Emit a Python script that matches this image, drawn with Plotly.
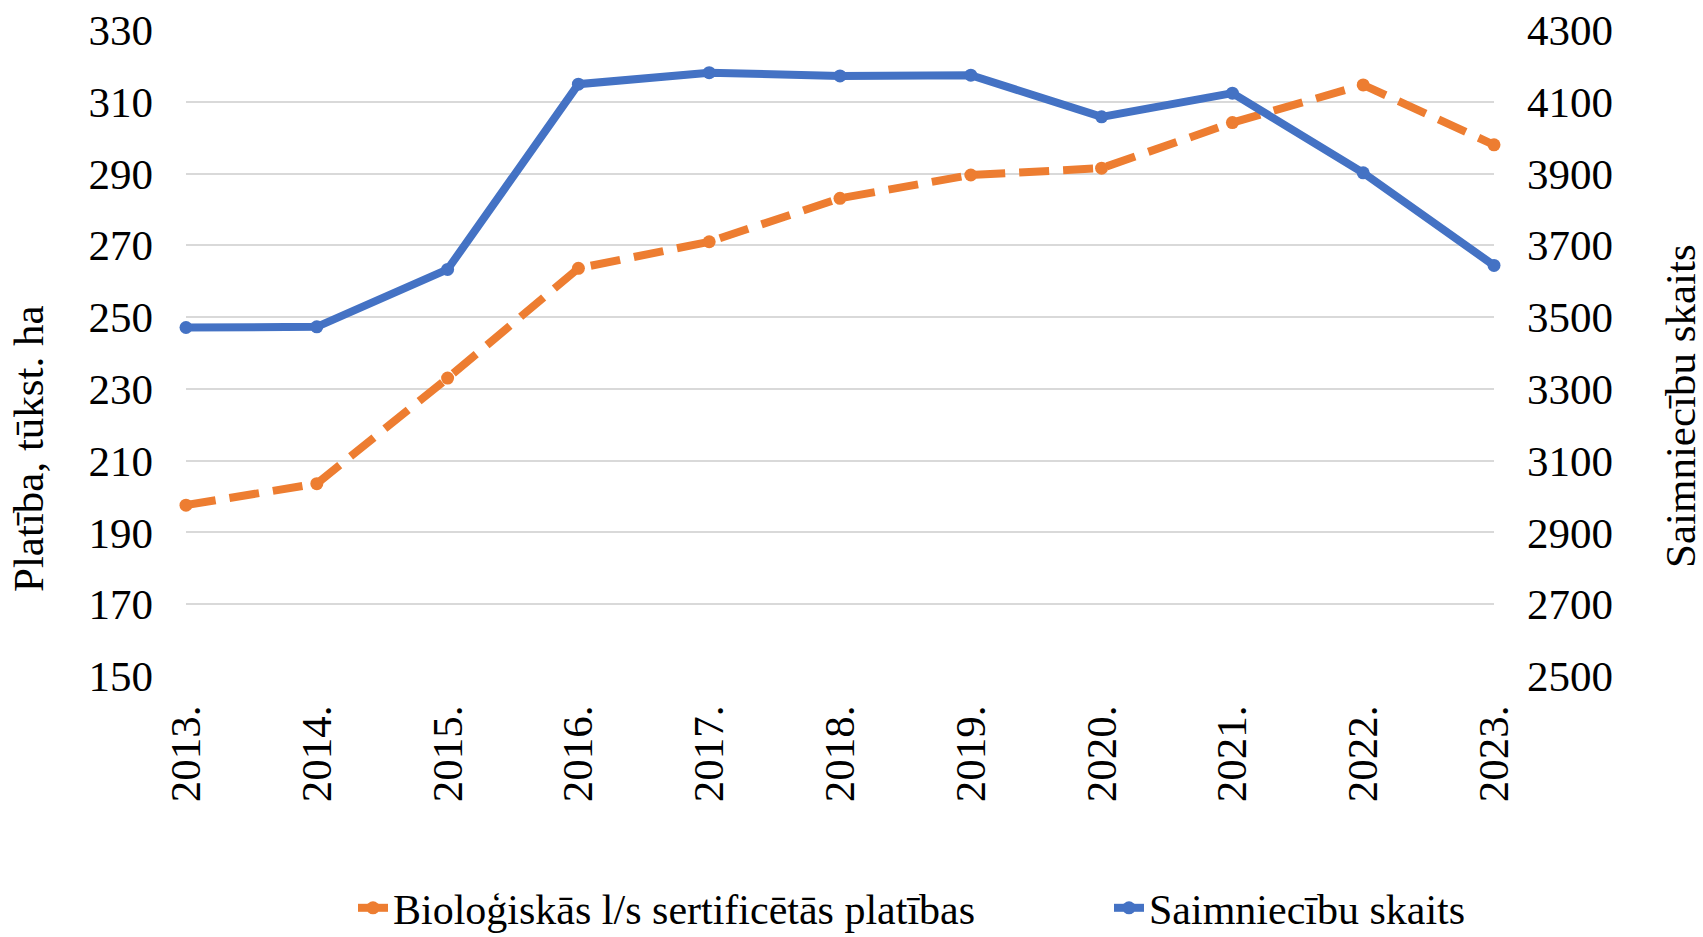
import plotly.graph_objects as go

years = ["2013.", "2014.", "2015.", "2016.", "2017.", "2018.", "2019.", "2020.", "2021.", "2022.", "2023."]
platibas = [197.6, 203.6, 233.0, 263.6, 271.0, 283.1, 289.6, 291.5, 304.2, 314.7, 298.0]
saimniecibas = [3471, 3473, 3633, 4149, 4181, 4172, 4174, 4058, 4124, 3902, 3644]

name_area = "Bioloģiskās l/s sertificētās platības"
name_farms = "Saimniecību skaits"
left_title = "Platība, tūkst. ha"
right_title = "Saimniecību skaits"

FONT = "'Liberation Serif', 'Times New Roman', serif"
FS = 43
W, H = 1703, 937

fig = go.Figure()
fig.add_trace(go.Scatter(
    x=years, y=platibas, name=name_area, mode="lines+markers",
    line=dict(color="#ED7D31", width=8, dash="30px,14px"),
    marker=dict(color="#ED7D31", size=13),
    yaxis="y", legend="legend", cliponaxis=False,
))
fig.add_trace(go.Scatter(
    x=years, y=saimniecibas, name=name_farms, mode="lines+markers",
    line=dict(color="#4472C4", width=8),
    marker=dict(color="#4472C4", size=13),
    yaxis="y2", legend="legend2", cliponaxis=False,
))

leg_common = dict(
    orientation="h", xanchor="left", yanchor="middle",
    xref="container", yref="container",
    font=dict(family=FONT, size=42, color="black"),
    itemwidth=30, bgcolor="rgba(0,0,0,0)",
)

fig.update_layout(
    width=W, height=H,
    margin=dict(l=186, r=209, t=30, b=261),
    paper_bgcolor="white", plot_bgcolor="white",
    font=dict(family=FONT, size=FS, color="black"),
    showlegend=True,
    legend=dict(x=353 / W, y=1 - 908 / H, **leg_common),
    legend2=dict(x=1109 / W, y=1 - 908 / H, **leg_common),
    xaxis=dict(
        type="category", range=[0, 10], tickangle=-90, automargin=False,
        showgrid=False, showline=False, zeroline=False,
        ticks="", ticklabelstandoff=20,
        tickfont=dict(family=FONT, size=FS, color="black"),
    ),
    yaxis=dict(
        range=[150, 330], dtick=20, tick0=150, automargin=False,
        showgrid=True, gridcolor="#d9d9d9", gridwidth=2,
        showline=False, zeroline=False, ticks="", ticklabelstandoff=32,
        tickfont=dict(family=FONT, size=FS, color="black"),
    ),
    yaxis2=dict(
        range=[2500, 4300], dtick=200, tick0=2500, automargin=False,
        overlaying="y", side="right",
        showgrid=False, showline=False, zeroline=False, ticks="", ticklabelstandoff=32,
        tickfont=dict(family=FONT, size=FS, color="black"),
    ),
    annotations=[
        dict(text=left_title, textangle=-90, xref="paper", yref="paper",
             x=(29 - 186) / 1308, y=(676 - 449) / 646, xanchor="center", yanchor="middle",
             showarrow=False, font=dict(family=FONT, size=FS, color="black")),
        dict(text=right_title, textangle=-90, xref="paper", yref="paper",
             x=(1680 - 186) / 1308, y=(676 - 406) / 646, xanchor="center", yanchor="middle",
             showarrow=False, font=dict(family=FONT, size=FS, color="black")),
    ],
)

fig.write_html(
    "out.html",
    config={"displayModeBar": False},
    post_script="document.body.style.margin='0';document.body.style.overflow='hidden';",
)
